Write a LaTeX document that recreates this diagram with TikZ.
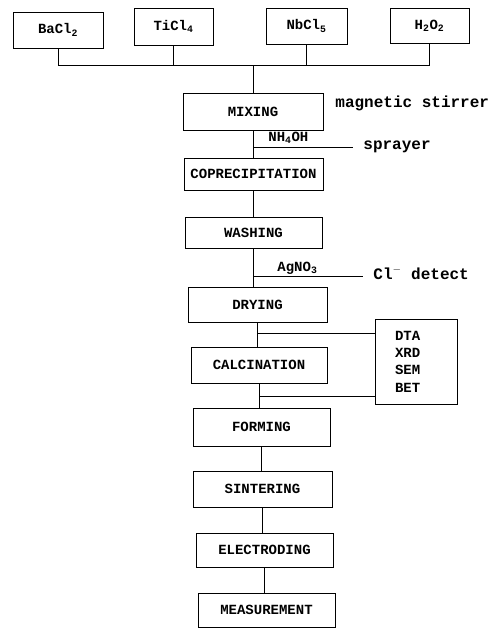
\documentclass[tikz,border=0pt]{standalone}
\usepackage{fontspec}
\setmonofont{Liberation Mono}
\begin{document}
\begin{tikzpicture}[x=1pt,y=-1pt,line width=0.8pt,
  box/.style={draw,rectangle,inner sep=0pt,font=\ttfamily\bfseries\fontsize{14}{17.3}\selectfont},
  lab/.style={inner sep=0pt,font=\ttfamily\bfseries\fontsize{14}{16}\selectfont},
  side/.style={inner sep=0pt,font=\ttfamily\bfseries\fontsize{16}{18}\selectfont}]
\useasboundingbox (0,0) rectangle (500,630);
% top inputs
\node[box,minimum width=90pt,minimum height=36pt] (ba) at (58,30) {BaCl\textsubscript{2}};
\node[box,minimum width=79pt,minimum height=37pt] (ti) at (173.5,26.5) {TiCl\textsubscript{4}};
\node[box,minimum width=81pt,minimum height=36pt] (nb) at (306.5,26) {NbCl\textsubscript{5}};
\node[box,minimum width=79pt,minimum height=35pt] (h2) at (429.5,25.5) {H\textsubscript{2}O\textsubscript{2}};
% process chain
\node[box,minimum width=140pt,minimum height=37pt] (mix) at (253,111.5) {MIXING};
\node[box,minimum width=139pt,minimum height=32pt] (cop) at (253.5,174) {COPRECIPITATION};
\node[box,minimum width=137pt,minimum height=31pt] (wash) at (253.5,232.5) {WASHING};
\node[box,minimum width=139pt,minimum height=35pt] (dry) at (257.5,304.5) {DRYING};
\node[box,minimum width=136pt,minimum height=36pt] (calc) at (259,365) {CALCINATION};
\node[box,minimum width=137pt,minimum height=38pt] (form) at (261.5,427) {FORMING};
\node[box,minimum width=139pt,minimum height=36pt] (sint) at (262.5,489) {SINTERING};
\node[box,minimum width=137pt,minimum height=34pt] (elec) at (264.5,550) {ELECTRODING};
\node[box,minimum width=137pt,minimum height=34pt] (meas) at (266.5,610) {MEASUREMENT};
\node[box,minimum width=82pt,minimum height=85pt,text width=42pt,align=left] (ana) at (416,361.5) {DTA\\XRD\\SEM\\BET};
% labels
\node[side,anchor=base west] (mag) at (335,107) {magnetic stirrer};
\node[lab,anchor=base west] (nh) at (268,141) {NH\textsubscript{4}OH};
\node[side,anchor=base west] (sprl) at (363,149) {sprayer};
\node[lab,anchor=base west] (ag) at (277,271) {AgNO\textsubscript{3}};
\node[side,anchor=base west] (cll) at (373,279) {Cl$^-$ detect};
% bus
\coordinate (bus) at (0,65);
\draw (ba.south) -- (ba.south |- bus) -- (h2.south |- bus) -- (h2.south);
\draw (ti.south) -- (ti.south |- bus);
\draw (nb.south) -- (nb.south |- bus);
\draw (mix.north |- bus) -- (mix.north);
% chain connectors
\draw (mix.south) -- (mix.south |- cop.north);
\draw (cop.south) -- (cop.south |- wash.north);
\draw (wash.south) -- (wash.south |- dry.north);
\draw (dry.south) -- (dry.south |- calc.north);
\draw (calc.south) -- (calc.south |- form.north);
\draw (form.south) -- (form.south |- sint.north);
\draw (sint.south) -- (sint.south |- elec.north);
\draw (elec.south) -- (elec.south |- meas.north);
% side branches
\coordinate (spr) at (353,147);
\draw (mix.south |- spr) -- (spr);
\coordinate (cld) at (363,276);
\draw (wash.south |- cld) -- (cld);
\coordinate (a1) at (0,333);
\draw (dry.south |- a1) -- (ana.west |- a1);
\coordinate (a2) at (0,396);
\draw (calc.south |- a2) -- (ana.west |- a2);
\end{tikzpicture}
\end{document}
